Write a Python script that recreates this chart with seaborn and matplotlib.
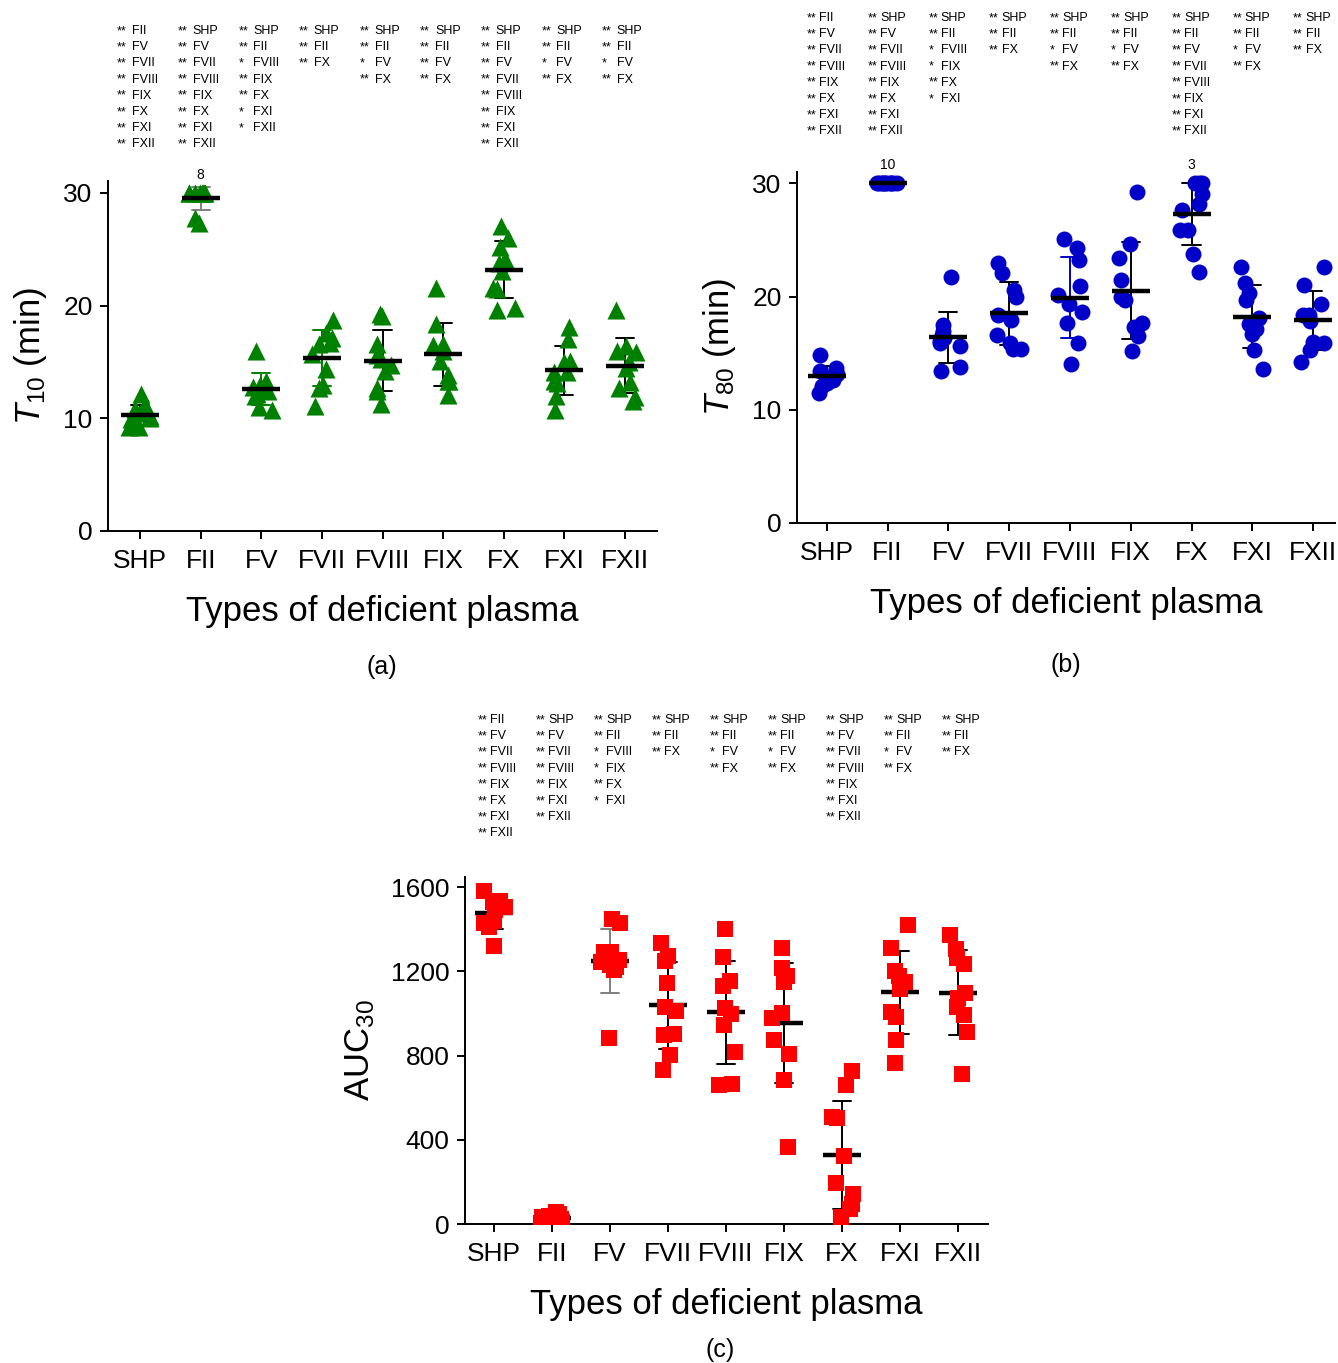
import numpy as np
import pandas as pd
import matplotlib
matplotlib.use("Agg")
import matplotlib.pyplot as plt
from matplotlib.transforms import blended_transform_factory
import seaborn as sns

groups = ["SHP", "FII", "FV", "FVII", "FVIII", "FIX", "FX", "FXI", "FXII"]

# T10 (min), n = 10 per plasma type
t10_shp = [12.2, 11.2, 10.8, 10.5, 10.2, 10.0, 9.9, 9.6, 9.2, 9.2]
t10_fii = [30, 30, 30, 30, 30, 30, 30, 30, 27.8, 27.3]
t10_fv = [16.0, 13.3, 13.0, 12.8, 12.6, 12.4, 12.2, 12.0, 11.0, 10.7]
t10_fvii = [18.7, 17.6, 17.1, 16.7, 16.6, 15.7, 14.4, 13.0, 12.7, 11.1]
t10_fviii = [19.3, 19.1, 16.6, 15.6, 15.3, 14.7, 14.2, 12.7, 12.4, 11.3]
t10_fix = [21.6, 18.4, 16.6, 16.5, 16.0, 15.1, 13.8, 13.3, 13.3, 12.1]
t10_fx = [27.1, 26.0, 25.2, 24.1, 23.8, 23.1, 21.6, 21.5, 19.8, 19.6]
t10_fxi = [18.1, 17.0, 15.1, 15.0, 14.1, 14.1, 13.3, 13.1, 12.0, 10.7]
t10_fxii = [19.6, 16.4, 16.0, 15.9, 15.0, 14.5, 13.2, 12.7, 11.9, 11.5]

# T80 (min)
t80_shp = [14.8, 13.7, 13.4, 13.2, 12.9, 12.9, 12.6, 12.4, 12.1, 11.5]
t80_fii = [30, 30, 30, 30, 30, 30, 30, 30, 30, 30]
t80_fv = [21.7, 17.5, 17.0, 16.6, 16.3, 16.1, 15.9, 15.6, 13.8, 13.4]
t80_fvii = [23.0, 22.1, 20.6, 20.0, 18.4, 17.9, 16.6, 15.9, 15.4, 15.4]
t80_fviii = [25.1, 24.3, 23.2, 20.9, 20.1, 19.3, 18.6, 17.7, 15.9, 14.0]
t80_fix = [29.2, 24.6, 23.4, 21.5, 20.0, 19.7, 17.7, 17.3, 16.5, 15.2]
t80_fx = [30, 30, 30, 29.1, 28.2, 27.6, 25.9, 25.9, 23.8, 22.2]
t80_fxi = [22.6, 21.2, 20.3, 19.7, 18.1, 17.6, 17.1, 16.7, 15.3, 13.6]
t80_fxii = [22.6, 21.0, 19.3, 18.4, 18.4, 17.8, 16.0, 15.9, 15.3, 14.2]

# AUC30
auc_shp = [1580, 1535, 1528, 1520, 1505, 1490, 1440, 1428, 1412, 1320]
auc_fii = [58, 48, 40, 35, 30, 25, 20, 15, 10, 5]
auc_fv = [1447, 1428, 1293, 1293, 1254, 1246, 1230, 1219, 1206, 884]
auc_fvii = [1336, 1274, 1249, 1146, 1032, 1013, 901, 897, 805, 730]
auc_fviii = [1400, 1266, 1154, 1132, 1028, 997, 944, 817, 659, 663]
auc_fix = [1309, 1217, 1177, 1150, 1003, 979, 873, 809, 682, 368]
auc_fx = [725, 662, 508, 505, 321, 195, 143, 95, 71, 35]
auc_fxi = [1420, 1309, 1201, 1178, 1147, 1116, 1005, 984, 873, 767]
auc_fxii = [1373, 1305, 1262, 1233, 1095, 1074, 1032, 992, 913, 714]

# Pairwise significance listed above each group (* P<0.05, ** P<0.01)
sig_t10 = [
    ["** FII", "** FV", "** FVII", "** FVIII", "** FIX", "** FX", "** FXI", "** FXII"],
    ["** SHP", "** FV", "** FVII", "** FVIII", "** FIX", "** FX", "** FXI", "** FXII"],
    ["** SHP", "** FII", "* FVIII", "** FIX", "** FX", "* FXI", "* FXII"],
    ["** SHP", "** FII", "** FX"],
    ["** SHP", "** FII", "* FV", "** FX"],
    ["** SHP", "** FII", "** FV", "** FX"],
    ["** SHP", "** FII", "** FV", "** FVII", "** FVIII", "** FIX", "** FXI", "** FXII"],
    ["** SHP", "** FII", "* FV", "** FX"],
    ["** SHP", "** FII", "* FV", "** FX"],
]
sig_t80 = [
    ["** FII", "** FV", "** FVII", "** FVIII", "** FIX", "** FX", "** FXI", "** FXII"],
    ["** SHP", "** FV", "** FVII", "** FVIII", "** FIX", "** FX", "** FXI", "** FXII"],
    ["** SHP", "** FII", "* FVIII", "* FIX", "** FX", "* FXI"],
    ["** SHP", "** FII", "** FX"],
    ["** SHP", "** FII", "* FV", "** FX"],
    ["** SHP", "** FII", "* FV", "** FX"],
    ["** SHP", "** FII", "** FV", "** FVII", "** FVIII", "** FIX", "** FXI", "** FXII"],
    ["** SHP", "** FII", "* FV", "** FX"],
    ["** SHP", "** FII", "** FX"],
]
sig_auc = [
    ["** FII", "** FV", "** FVII", "** FVIII", "** FIX", "** FX", "** FXI", "** FXII"],
    ["** SHP", "** FV", "** FVII", "** FVIII", "** FIX", "** FXI", "** FXII"],
    ["** SHP", "** FII", "* FVIII", "* FIX", "** FX", "* FXI"],
    ["** SHP", "** FII", "** FX"],
    ["** SHP", "** FII", "* FV", "** FX"],
    ["** SHP", "** FII", "* FV", "** FX"],
    ["** SHP", "** FV", "** FVII", "** FVIII", "** FIX", "** FXI", "** FXII"],
    ["** SHP", "** FII", "* FV", "** FX"],
    ["** SHP", "** FII", "** FX"],
]

t10_values = [t10_shp, t10_fii, t10_fv, t10_fvii, t10_fviii, t10_fix, t10_fx, t10_fxi, t10_fxii]
t80_values = [t80_shp, t80_fii, t80_fv, t80_fvii, t80_fviii, t80_fix, t80_fx, t80_fxi, t80_fxii]
auc_values = [auc_shp, auc_fii, auc_fv, auc_fvii, auc_fviii, auc_fix, auc_fx, auc_fxi, auc_fxii]

GREEN = "#008000"
BLUE = "#0000C8"
RED = "#FF0000"
GREY = "#7F7F7F"

sns.set_theme(style="ticks")
plt.rcParams["font.family"] = ["Liberation Sans", "DejaVu Sans"]
plt.rcParams["mathtext.fontset"] = "custom"
plt.rcParams["mathtext.rm"] = "Liberation Sans"
plt.rcParams["mathtext.it"] = "Liberation Sans:italic"
for key in ("text.color", "axes.labelcolor", "xtick.color", "ytick.color",
            "axes.edgecolor"):
    plt.rcParams[key] = "black"

PX = 0.72  # points per pixel at 100 dpi


def long_frame(values):
    rows = [(g, v) for g, vals in zip(groups, values) for v in vals]
    return pd.DataFrame(rows, columns=["group", "value"])


def draw_panel(ax, values, marker, color, msize, err_colors, ylim, yticks, ylabel,
               sig, sig_dx, sig_gap, sig_top, xlim, means_on_top, ceiling, seed):
    frame = long_frame(values)
    np.random.seed(seed)
    sns.stripplot(data=frame, x="group", y="value", order=groups, color=color,
                  marker=marker, size=msize, jitter=0.2, linewidth=0, ax=ax, zorder=3)

    n0 = len(ax.lines)
    palette = {g: err_colors.get(g, "black") for g in groups}
    sns.pointplot(data=frame, x="group", y="value", order=groups, hue="group",
                  hue_order=groups, palette=palette, errorbar="sd", capsize=0.3,
                  markersize=0, linestyle="none", err_kws={"linewidth": 1.4},
                  legend=False, ax=ax)
    for ln in ax.lines[n0:]:
        ln.set_zorder(2)

    n1 = len(ax.lines)
    sns.pointplot(data=frame, x="group", y="value", order=groups, errorbar=None,
                  color="black", marker="_", markersize=27, markeredgewidth=3.2,
                  linestyle="none", ax=ax)
    for ln in ax.lines[n1:]:
        ln.set_zorder(4 if means_on_top else 2.5)

    ax.set_xlim(*xlim)
    ax.set_ylim(*ylim)
    ax.set_yticks(yticks)
    ax.spines[["top", "right"]].set_visible(False)
    for s in ("left", "bottom"):
        ax.spines[s].set_linewidth(1.4)
        ax.spines[s].set_color("black")
    ax.tick_params(axis="both", length=6, width=1.4, labelsize=19, pad=5,
                   colors="black")
    ax.tick_params(axis="x", pad=7)
    ax.set_xlabel("Types of deficient plasma", fontsize=25, labelpad=16)
    ax.set_ylabel(ylabel, fontsize=25, labelpad=10)

    # number of results reaching the 30 min ceiling
    if ceiling is not None:
        for i, vals in enumerate(values):
            n_top = int(np.sum(np.isclose(vals, ceiling)))
            if n_top > 0:
                ax.annotate(str(n_top), xy=(i, ceiling), xytext=(0, 18 * PX),
                            textcoords="offset points", ha="center", va="center",
                            fontsize=10, annotation_clip=False)

    trans = blended_transform_factory(ax.transData, ax.transAxes)
    for i, lines in enumerate(sig):
        for k, line in enumerate(lines):
            stars, name = line.split(" ", 1)
            y_off = (sig_top - 16.2 * k) * PX
            ax.annotate(stars, xy=(i, 1), xycoords=trans,
                        xytext=(-sig_dx * PX, y_off), textcoords="offset points",
                        ha="left", va="center", fontsize=9, annotation_clip=False)
            ax.annotate(name, xy=(i, 1), xycoords=trans,
                        xytext=((-sig_dx + sig_gap) * PX, y_off), textcoords="offset points",
                        ha="left", va="center", fontsize=9, annotation_clip=False)


W, H = 1338, 1363
fig = plt.figure(figsize=(W / 100, H / 100), dpi=100)

ax_a = fig.add_axes([108 / W, (H - 531) / H, 549 / W, 350 / H])
ax_b = fig.add_axes([797 / W, (H - 523) / H, 538 / W, 351 / H])
ax_c = fig.add_axes([465 / W, (H - 1224) / H, 523 / W, 347 / H])

draw_panel(ax_a, t10_values, "^", GREEN, 13,
           {"FII": GREY, "FV": GREEN, "FVII": GREEN},
           (0, 31.06), [0, 10, 20, 30], r"$T_{10}$ (min)",
           sig_t10, 23, 15, 150, (-0.53, 8.53), True, 30, 3)
draw_panel(ax_b, t80_values, "o", BLUE, 11.5,
           {"FVIII": BLUE},
           (0, 31.0), [0, 10, 20, 30], r"$T_{80}$ (min)",
           sig_t80, 20, 12.5, 154, (-0.49, 8.36), True, 30, 5)
draw_panel(ax_c, auc_values, "s", RED, 11,
           {"FV": GREY},
           (0, 1648), [0, 400, 800, 1200, 1600], r"AUC$_{30}$",
           sig_auc, 16, 12.5, 157, (-0.5, 8.52), False, None, 7)

fig.text(382 / W, 1 - 667 / H, "(a)", ha="center", va="center", fontsize=18)
fig.text(1066 / W, 1 - 665 / H, "(b)", ha="center", va="center", fontsize=18)
fig.text(720 / W, 1 - 1350 / H, "(c)", ha="center", va="center", fontsize=18)

fig.savefig("out.png", dpi=100)
